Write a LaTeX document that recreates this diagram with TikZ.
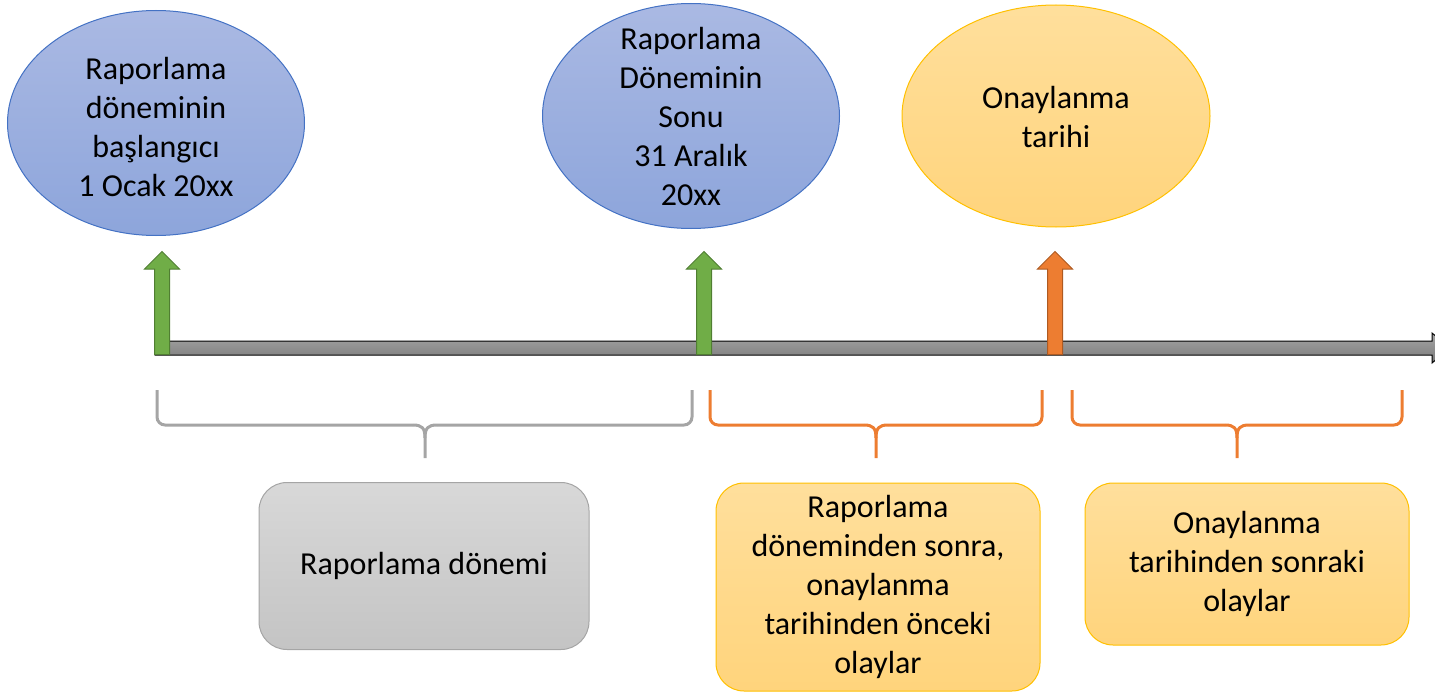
\documentclass[tikz,border=0pt]{standalone}
\usepackage{xcolor}
\usepackage{fontspec}
\setmainfont{Carlito}
\usepackage{tikz}
\usetikzlibrary{shapes.geometric, shapes.arrows, positioning}

\definecolor{ovalline}{HTML}{4472C4}
\definecolor{ovaltop}{HTML}{AAB9E3}
\definecolor{ovalbot}{HTML}{8DA5DB}
\definecolor{goldline}{HTML}{FFC000}
\definecolor{goldtop}{HTML}{FFDF9C}
\definecolor{goldbot}{HTML}{FFD47C}
\definecolor{greyline}{HTML}{A5A5A5}
\definecolor{greytop}{HTML}{D8D8D8}
\definecolor{greybot}{HTML}{C4C4C4}
\definecolor{arrgreen}{HTML}{70AD47}
\definecolor{arrgreenline}{HTML}{507E32}
\definecolor{arrorange}{HTML}{ED7D31}
\definecolor{arrorangeline}{HTML}{AE5A21}

\newcommand{\ovaltext}[2][0pt]{\raisebox{\dimexpr-0.25em-#1\relax}[0pt][0pt]{\begin{tabular}{@{}c@{}}#2\end{tabular}}}

\begin{document}
\begin{tikzpicture}[x=1pt, y=-1pt]
\tikzstyle{datebox} = [ellipse, draw=ovalline, line width=1pt, top color=ovaltop, bottom color=ovalbot, minimum width=297pt, minimum height=225pt, inner sep=0pt, font=\fontsize{32}{39}\selectfont]
\tikzstyle{approvalbox} = [datebox, draw=goldline, top color=goldtop, bottom color=goldbot, minimum width=308pt, minimum height=222pt]
\tikzstyle{eventbox} = [rectangle, rounded corners=28pt, draw=goldline, line width=1pt, top color=goldtop, bottom color=goldbot, minimum width=324pt, align=center, font=\fontsize{32}{39}\selectfont]
\tikzstyle{periodbox} = [eventbox, draw=greyline, top color=greytop, bottom color=greybot, minimum width=330pt, minimum height=167pt]
\tikzstyle{uparrow} = [single arrow, rotate=90, draw=arrgreenline, fill=arrgreen, line width=1pt, minimum height=103pt, minimum width=35pt, inner sep=7pt, single arrow tip angle=90, single arrow head extend=10pt]
\tikzstyle{greybrace} = [draw=greyline, line width=3pt]
\tikzstyle{orangebrace} = [draw=arrorange, line width=3pt]

\useasboundingbox (0,0) rectangle (1435,693);

% time line
\coordinate (t0) at (155,348);
\coordinate (t1) at (1432,348);
\draw[black, line width=1pt, top color=gray!70, bottom color=gray!95!black]
  (155,341) -- (1432,341) -- (1432,333) -- (1450,348) -- (1432,363) -- (1432,355) -- (155,355) -- cycle;

% the three dates
\node (start) [datebox] at (156,123) {\ovaltext[5pt]{Raporlama\\döneminin\\başlangıcı\\1 Ocak 20xx}};
\node (end) [datebox] at (691,116) {\ovaltext[2pt]{Raporlama\\Döneminin\\Sonu\\31 Aralık\\20xx}};
\node (approval) [approvalbox] at (1056,116) {\ovaltext[2pt]{Onaylanma\\tarihi}};

\node (startarrow) [uparrow, anchor=tail] at (162,355) {};
\node (endarrow) [uparrow, anchor=tail] at (704,355) {};
\node (approvalarrow) [uparrow, anchor=tail, draw=arrorangeline, fill=arrorange] at (1055,355) {};

% braces
\draw[greybrace, rounded corners=8pt] (157,390) -- (157,425) -- (413,425);
\draw[greybrace] (413,425) .. controls (422,425) and (425,428) .. (425,438) -- (425,458);
\draw[greybrace, rounded corners=8pt] (692,390) -- (692,425) -- (437,425);
\draw[greybrace] (437,425) .. controls (428,425) and (425,428) .. (425,438);

\draw[orangebrace, rounded corners=8pt] (710,390) -- (710,425) -- (864,425);
\draw[orangebrace] (864,425) .. controls (873,425) and (876,428) .. (876,438) -- (876,458);
\draw[orangebrace, rounded corners=8pt] (1042,390) -- (1042,425) -- (888,425);
\draw[orangebrace] (888,425) .. controls (879,425) and (876,428) .. (876,438);

\draw[orangebrace, rounded corners=8pt] (1072,390) -- (1072,425) -- (1225,425);
\draw[orangebrace] (1225,425) .. controls (1234,425) and (1237,428) .. (1237,438) -- (1237,458);
\draw[orangebrace, rounded corners=8pt] (1402,390) -- (1402,425) -- (1249,425);
\draw[orangebrace] (1249,425) .. controls (1240,425) and (1237,428) .. (1237,438);

% periods
\node (period) [periodbox] at (424,566) {Raporlama dönemi};
\node (before) [eventbox, minimum height=208pt] at (878,587) {Raporlama\\döneminden sonra,\\onaylanma\\tarihinden önceki\\olaylar};
\node (after) [eventbox, minimum height=162pt] at (1247,564) {Onaylanma\\tarihinden sonraki\\olaylar};

\end{tikzpicture}
\end{document}
